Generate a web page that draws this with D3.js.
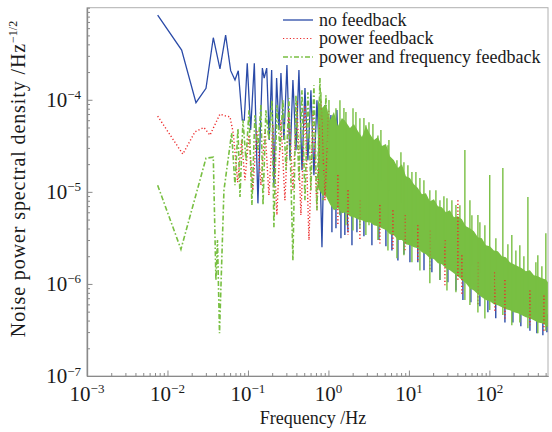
<!DOCTYPE html>
<html>
<head>
<meta charset="utf-8">
<script src="https://cdn.jsdelivr.net/npm/d3@7"></script>
<style>
body { margin: 0; background: #fff; }
text { font-family: "Liberation Serif", "DejaVu Serif", serif; fill: #1a1a1a; }
</style>
</head>
<body>
<svg id="grafico" width="552" height="432"></svg>
<script>
// ---- data ----
const seriesNames = ['no feedback', 'power feedback', 'power and frequency feedback'];

// no feedback, low-frequency part (Hz, Hz^-1/2)
const noFbFreq = [0.00755, 0.0150, 0.0226, 0.0301, 0.0371, 0.0449, 0.0528, 0.0610, 0.0690, 0.0758,
  0.0850, 0.0900, 0.0980, 0.108, 0.120, 0.133, 0.151, 0.159, 0.171, 0.184, 0.197, 0.210, 0.227, 0.243,
  0.257, 0.280, 0.305, 0.333, 0.362, 0.395, 0.430, 0.469, 0.511, 0.556, 0.606, 0.660, 0.720, 0.784,
  0.831, 0.905, 0.986, 1.074, 1.170, 1.275, 1.39, 1.558, 1.75];
const noFbVal = [8.3e-4, 3.47e-4, 9.3e-5, 1.33e-4, 4.72e-4, 2.16e-4, 5.05e-4, 2.07e-4, 1.64e-4, 2.07e-4,
  6.0e-5, 6.0e-5, 2.49e-4, 4.7e-5, 2.49e-4, 7.5e-6, 2.21e-4, 1.72e-4, 2.21e-4, 3.65e-5, 2.1e-4, 1.12e-5,
  1.72e-4, 4.7e-5, 1.95e-4, 3.65e-5, 2.38e-4, 2.2e-5, 1.64e-4, 2.84e-5, 2.1e-4, 1.72e-5, 1.34e-4, 2.2e-5,
  1.27e-4, 1.52e-5, 9.9e-5, 1.95e-5, 2.5e-6, 8.75e-5, 1.34e-5, 6.82e-5, 7.17e-6, 7.73e-5, 5.58e-6,
  6.0e-5, 3.65e-6];

// power feedback, low-frequency part
const powFbFreq = [0.00755, 0.0155, 0.0220, 0.0284, 0.0337, 0.0449, 0.0533, 0.0598, 0.0657, 0.0745,
  0.0835, 0.0918, 0.103, 0.115, 0.129, 0.145, 0.163, 0.182, 0.204, 0.229, 0.257, 0.288, 0.323, 0.362,
  0.406, 0.455, 0.511, 0.573, 0.642, 0.720, 0.807, 0.905, 1.01];
const powFbVal = [6.65e-5, 2.57e-5, 4.49e-5, 5.0e-5, 4.13e-5, 6.99e-5, 6.65e-5, 6.53e-5, 4.35e-5, 1.27e-5,
  3.65e-5, 1.34e-5, 4.13e-5, 1.04e-5, 4.7e-5, 1.18e-5, 4.9e-5, 9.2e-6, 5.3e-5, 5.6e-6, 6.0e-5, 8.1e-6,
  7.7e-5, 1.04e-5, 9.9e-5, 5.6e-6, 8.75e-5, 3.0e-6, 7.7e-5, 6.3e-6, 9.9e-5, 8.1e-6, 7.7e-5];

// power and frequency feedback, low-frequency part
const pfFbFreq = [0.00755, 0.0147, 0.0301, 0.0371, 0.0400, 0.0418, 0.0443, 0.0503, 0.0627, 0.0690,
  0.0751, 0.0796, 0.0867, 0.0945, 0.103, 0.112, 0.122, 0.133, 0.145, 0.154, 0.167, 0.182, 0.199, 0.210,
  0.229, 0.250, 0.272, 0.297, 0.323, 0.362, 0.395, 0.430, 0.469, 0.511, 0.556, 0.606, 0.660, 0.720,
  0.784, 0.855, 0.931, 1.01];
const pfFbVal = [1.18e-5, 2.38e-6, 2.32e-5, 2.38e-5, 1.1e-6, 3.0e-6, 2.92e-7, 1.04e-5, 4.35e-5, 1.18e-5,
  4.9e-5, 8.8e-6, 6.0e-5, 2.2e-5, 7.7e-5, 7.2e-6, 6.8e-5, 2.84e-5, 8.75e-5, 7.2e-6, 7.7e-5, 3.65e-5,
  9.9e-5, 4.13e-6, 8.75e-5, 2.84e-5, 9.9e-5, 1.72e-5, 1.04e-4, 1.8e-6, 1.12e-4, 1.34e-5, 1.27e-4, 8.1e-6,
  1.21e-4, 1.04e-5, 1.44e-4, 6.3e-6, 1.72e-4, 8.1e-6, 1.12e-4, 8.1e-6];

// dense high-frequency part: envelope of the power and frequency feedback noise band
const bandFreq = [0.741, 0.830, 0.931, 1.044, 1.170, 1.313, 1.471, 1.650, 1.850, 2.074, 2.325, 2.608,
  2.924, 3.279, 3.676, 4.121, 4.619, 5.179, 5.808, 6.512, 7.302, 8.188, 9.180, 10.29, 11.54, 12.94,
  14.50, 16.26, 18.24, 20.45, 22.93, 25.70, 28.82, 32.31, 36.23, 40.62, 45.54, 51.07, 57.26, 64.20,
  71.98, 80.71, 90.50, 101.5, 113.7, 127.5, 143.0, 160.3, 179.8, 201.6, 226.0, 253.4, 284.1, 318.6,
  357.2, 400.5, 449.0, 503.4, 533.2];
const pfBandHi = [9.92e-5, 8.12e-5, 8.98e-5, 6.02e-5, 7.35e-5, 5.18e-5, 6.33e-5, 5.72e-5, 4.93e-5,
  5.44e-5, 4.57e-5, 3.93e-5, 5.18e-5, 4.24e-5, 3.65e-5, 3.93e-5, 3.14e-5, 3.30e-5, 2.44e-5, 2.21e-5,
  1.81e-5, 2.00e-5, 1.48e-5, 1.41e-5, 1.21e-5, 1.10e-5, 9.44e-6, 9.68e-6, 7.92e-6, 8.33e-6, 6.99e-6,
  6.82e-6, 6.02e-6, 6.32e-6, 5.31e-6, 5.44e-6, 5.05e-6, 4.24e-6, 4.03e-6, 3.74e-6, 3.22e-6, 3.14e-6,
  2.63e-6, 2.57e-6, 2.30e-6, 2.27e-6, 2.00e-6, 1.95e-6, 1.72e-6, 1.64e-6, 1.56e-6, 1.48e-6, 1.37e-6,
  1.41e-6, 1.24e-6, 1.21e-6, 1.15e-6, 1.12e-6, 1.04e-6];
const pfBandLo = [1.10e-5, 9.44e-6, 8.98e-6, 7.35e-6, 6.32e-6, 6.65e-6, 5.87e-6, 6.02e-6, 5.44e-6,
  5.31e-6, 5.05e-6, 4.93e-6, 4.69e-6, 4.69e-6, 4.35e-6, 4.24e-6, 4.03e-6, 3.84e-6, 3.47e-6, 3.38e-6,
  3.00e-6, 3.00e-6, 2.70e-6, 2.63e-6, 2.51e-6, 2.44e-6, 2.21e-6, 2.10e-6, 1.90e-6, 1.86e-6, 1.68e-6,
  1.64e-6, 1.48e-6, 1.41e-6, 1.31e-6, 1.21e-6, 1.10e-6, 1.02e-6, 8.98e-7, 8.50e-7, 7.73e-7, 7.17e-7,
  6.70e-7, 6.49e-7, 6.02e-7, 5.87e-7, 5.58e-7, 5.31e-7, 5.18e-7, 4.93e-7, 4.80e-7, 4.57e-7, 4.35e-7,
  4.24e-7, 4.03e-7, 3.80e-7, 3.74e-7, 3.56e-7, 3.38e-7];

// single spikes sticking out of the band (frequency, top, bottom)
const pfSpikeFreq = [1.24, 1.39, 1.65, 2.02, 2.46, 2.92, 3.19, 4.12, 5.49, 7.10, 8.67, 10.9, 13.7, 18.2,
  24.3, 29.7, 38.4, 49.6, 57.3, 72.0, 87.9, 101, 147, 190, 239, 301, 400, 503,
  0.807, 1.015, 1.558, 2.196, 2.761, 3.571, 4.489, 5.644, 7.957, 9.719, 12.22, 15.36, 21.65, 27.22,
  34.21, 43.01, 60.64, 76.21, 120.4, 169.8, 213.4, 268.3, 378.2, 449.0];
const pfSpikeTop = [8.1e-5, 9.9e-5, 7.35e-5, 8.1e-5, 6.3e-5, 5.3e-5, 5.7e-5, 4.1e-5, 3.2e-5, 2.2e-5,
  2.1e-5, 1.64e-5, 1.41e-5, 1.04e-5, 8.1e-6, 8.5e-6, 7.2e-6, 2.84e-5, 8.1e-6, 5.6e-6, 4.35e-6, 1.52e-5,
  1.81e-5, 3.4e-6, 2.63e-6, 8.8e-6, 2.05e-6, 3.56e-6,
  1.21e-4, 9.92e-5, 8.12e-5, 7.35e-5, 6.33e-5, 5.44e-5, 4.69e-5, 3.65e-5, 2.70e-5, 1.95e-5, 1.64e-5,
  1.34e-5, 1.04e-5, 8.98e-6, 8.1e-6, 7.17e-6, 5.58e-6, 4.69e-6, 3.14e-6, 2.70e-6, 2.30e-6, 2.0e-6,
  1.72e-6, 1.56e-6];
const pfSpikeBottom = [8.1e-6, 5.6e-6, 4.35e-6, 3.8e-6, 4.0e-6, 3.4e-6, 4.35e-6, 3.0e-6, 2.3e-6, 1.9e-6,
  2.05e-6, 1.72e-6, 1.4e-6, 1.02e-6, 1.1e-6, 8.5e-7, 8.1e-7, 6.7e-7, 5.9e-7, 4.9e-7, 4.2e-7, 5.2e-7,
  4.6e-7, 3.56e-7, 3.8e-7, 3.3e-7, 2.92e-7, 3.1e-7,
  3.47e-5, 2.84e-5, 2.32e-5, 2.10e-5, 1.81e-5, 1.56e-5, 1.34e-5, 1.04e-5, 7.73e-6, 5.58e-6, 4.69e-6,
  3.84e-6, 3.0e-6, 2.57e-6, 2.3e-6, 2.05e-6, 1.60e-6, 1.34e-6, 8.98e-7, 7.73e-7, 6.7e-7, 5.72e-7,
  4.93e-7, 4.45e-7];

const noFbSpikeFreq = [1.105, 1.24, 1.43, 1.60, 1.96, 2.26, 2.76, 3.47, 4.24, 5.18, 6.15, 7.30, 8.67, 10.3,
  12.9, 15.4, 19.3, 24.3, 30.5, 38.4, 46.9, 58.9, 76.2, 95.8, 120, 156, 196, 246, 319, 389, 462, 518];
const noFbSpikeTop = [1.04e-5, 9.2e-6, 8.54e-6, 8.1e-6, 7.17e-6, 7.17e-6, 6.65e-6, 6.32e-6, 5.58e-6,
  5.18e-6, 4.69e-6, 4.35e-6, 3.84e-6, 3.65e-6, 3.30e-6, 3.0e-6, 2.57e-6, 2.3e-6, 2.05e-6, 1.72e-6,
  1.48e-6, 1.24e-6, 1.04e-6, 8.98e-7, 8.1e-7, 7.35e-7, 6.7e-7, 6.02e-7, 5.72e-7, 5.18e-7, 4.93e-7, 4.69e-7];
const noFbSpikeBottom = [3.65e-6, 4.03e-6, 3.14e-6, 3.4e-6, 2.63e-6, 3.65e-6, 3.30e-6, 2.63e-6, 3.0e-6,
  2.57e-6, 2.3e-6, 1.8e-6, 2.10e-6, 1.72e-6, 1.72e-6, 1.41e-6, 1.34e-6, 1.1e-6, 1.04e-6, 8.5e-7, 6.7e-7,
  6.32e-7, 5.72e-7, 4.93e-7, 4.24e-7, 3.8e-7, 3.8e-7, 3.47e-7, 3.1e-7, 2.92e-7, 2.77e-7, 2.99e-7];

const powFbSpikeFreq = [1.31, 1.75, 2.46, 4.36, 6.33, 8.92, 12.9, 18.2, 28.0, 40.6, 45.5, 72.0, 117, 156, 319, 476];
const powFbSpikeTop = [1.52e-5, 1.04e-5, 8.1e-6, 7.2e-6, 6.3e-6, 5.6e-6, 4.35e-6, 3.8e-6, 3.0e-6, 8.1e-6,
  2.05e-6, 1.72e-6, 1.34e-6, 1.1e-6, 8.5e-7, 7.5e-7];
const powFbSpikeBottom = [4.35e-6, 3.4e-6, 3.0e-6, 2.63e-6, 2.3e-6, 2.21e-6, 1.8e-6, 1.4e-6, 9.7e-7, 1.1e-6,
  7.5e-7, 5.9e-7, 4.9e-7, 4.2e-7, 3.56e-7, 3.1e-7];

const xMajor = [1e-3, 1e-2, 1e-1, 1, 10, 100];
const yMajor = [1e-7, 1e-6, 1e-5, 1e-4];

// ---- layout ----
const azul = '#2b4ba8';
const rojo = '#ec2b2b';
const verde = '#78bf42';
const gris = '#8a8a8a';

const svg = d3.select('#grafico');
const x = d3.scaleLog().domain([1e-3, 535]).range([87, 548]);
const y = d3.scaleLog().domain([1e-7, 1e-3]).range([376, 7.7]);

svg.append('clipPath').attr('id', 'recorte')
  .append('rect')
  .attr('x', x.range()[0]).attr('y', y.range()[1])
  .attr('width', x.range()[1] - x.range()[0])
  .attr('height', y.range()[0] - y.range()[1]);

// frame
svg.append('rect')
  .attr('x', x.range()[0]).attr('y', y.range()[1])
  .attr('width', x.range()[1] - x.range()[0])
  .attr('height', y.range()[0] - y.range()[1])
  .attr('fill', 'none')
  .attr('stroke', '#b0b0b0')
  .attr('stroke-width', 1);

const plot = svg.append('g').attr('clip-path', 'url(#recorte)');

const linea = d3.line().x(d => x(d[0])).y(d => y(d[1]));
const banda = d3.area().x(d => x(d[0])).y0(d => y(d[2])).y1(d => y(d[1]));

function dibujaSpikes(freq, top, bottom, color, ancho, dash) {
  plot.append('g')
    .selectAll('line')
    .data(d3.range(freq.length))
    .join('line')
    .attr('x1', i => x(freq[i])).attr('x2', i => x(freq[i]))
    .attr('y1', i => y(top[i])).attr('y2', i => y(bottom[i]))
    .attr('stroke', color)
    .attr('stroke-width', ancho)
    .attr('stroke-dasharray', dash);
}

// no feedback
plot.append('path')
  .datum(d3.zip(noFbFreq, noFbVal))
  .attr('d', linea)
  .attr('fill', 'none')
  .attr('stroke', azul)
  .attr('stroke-width', 1.3);
dibujaSpikes(noFbSpikeFreq, noFbSpikeTop, noFbSpikeBottom, azul, 1.4, null);

// power and frequency feedback band
plot.append('path')
  .datum(d3.zip(bandFreq, pfBandHi, pfBandLo))
  .attr('d', banda)
  .attr('fill', verde);

// power feedback
plot.append('path')
  .datum(d3.zip(powFbFreq, powFbVal))
  .attr('d', linea)
  .attr('fill', 'none')
  .attr('stroke', rojo)
  .attr('stroke-width', 1.4)
  .attr('stroke-dasharray', '1.2,2.2');
dibujaSpikes(powFbSpikeFreq, powFbSpikeTop, powFbSpikeBottom, rojo, 1.5, '1.2,2.2');

// power and frequency feedback lines
plot.append('path')
  .datum(d3.zip(pfFbFreq, pfFbVal))
  .attr('d', linea)
  .attr('fill', 'none')
  .attr('stroke', verde)
  .attr('stroke-width', 1.6)
  .attr('stroke-dasharray', '5,2.2,1.6,2.2');
dibujaSpikes(pfSpikeFreq, pfSpikeTop, pfSpikeBottom, verde, 1.4, null);

// ---- axes ----
const exponente = v => {
  const k = Math.round(Math.log10(v));
  return k < 0 ? '\u2212' + (-k) : String(k);
};

const xMinor = x.ticks().filter(v => !xMajor.some(m => Math.abs(v / m - 1) < 1e-6));
const yMinor = y.ticks().filter(v => !yMajor.some(m => Math.abs(v / m - 1) < 1e-6));

function estiloEje(g) {
  g.select('.domain').attr('stroke', gris).attr('stroke-width', 1.2);
  g.selectAll('.tick line').attr('stroke', gris).attr('stroke-width', 1);
  g.selectAll('.tick text').remove();
}

svg.append('g')
  .attr('transform', `translate(0,${y.range()[0]})`)
  .call(d3.axisBottom(x).tickValues(xMinor).tickSize(-3).tickSizeOuter(0))
  .call(estiloEje);
svg.append('g')
  .attr('transform', `translate(0,${y.range()[0]})`)
  .call(d3.axisBottom(x).tickValues(xMajor).tickSize(-5.5).tickSizeOuter(0))
  .call(estiloEje);
svg.append('g')
  .attr('transform', `translate(${x.range()[0]},0)`)
  .call(d3.axisLeft(y).tickValues(yMinor).tickSize(-3).tickSizeOuter(0))
  .call(estiloEje);
svg.append('g')
  .attr('transform', `translate(${x.range()[0]},0)`)
  .call(d3.axisLeft(y).tickValues(yMajor).tickSize(-5.5).tickSizeOuter(0))
  .call(estiloEje);

const xLabels = svg.append('g').selectAll('text')
  .data(xMajor)
  .join('text')
  .attr('x', d => x(d))
  .attr('y', 401)
  .attr('text-anchor', 'middle')
  .style('font-size', '21px');
xLabels.append('tspan').text('10');
xLabels.append('tspan').attr('dy', -8).style('font-size', '13px').text(d => exponente(d));

const yLabels = svg.append('g').selectAll('text')
  .data(yMajor)
  .join('text')
  .attr('x', 81)
  .attr('y', d => y(d) + 7)
  .attr('text-anchor', 'end')
  .style('font-size', '21px');
yLabels.append('tspan').text('10');
yLabels.append('tspan').attr('dy', -7.5).style('font-size', '13px').text(d => exponente(d));

svg.append('text')
  .attr('x', 313)
  .attr('y', 424)
  .attr('text-anchor', 'middle')
  .style('font-size', '18px')
  .text('Frequency /Hz');

const yTitulo = svg.append('text')
  .attr('transform', 'translate(25,179) rotate(-90)')
  .attr('text-anchor', 'middle')
  .style('font-size', '20px')
  .style('letter-spacing', '0.9px');
yTitulo.append('tspan').text('Noise power spectral density /Hz');
yTitulo.append('tspan').attr('dy', -8).style('font-size', '12px').style('letter-spacing', '0px').text('\u22121/2');

// ---- legend ----
const leyendaY = [20, 38.5, 57];
const leyendaColor = [azul, rojo, verde];
const leyendaDash = [null, '1.2,2.2', '5,2.2,1.6,2.2'];
const leyendaAncho = [1.3, 1.2, 1.5];

const leyenda = svg.append('g')
  .selectAll('g')
  .data(seriesNames)
  .join('g')
  .attr('transform', (d, i) => `translate(0,${leyendaY[i]})`);

leyenda.append('line')
  .attr('x1', 283).attr('x2', 313)
  .attr('stroke', (d, i) => leyendaColor[i])
  .attr('stroke-width', (d, i) => leyendaAncho[i])
  .attr('stroke-dasharray', (d, i) => leyendaDash[i]);

leyenda.append('text')
  .attr('x', 319)
  .attr('y', 5.5)
  .style('font-size', '18px')
  .text(d => d);
</script>
</body>
</html>
